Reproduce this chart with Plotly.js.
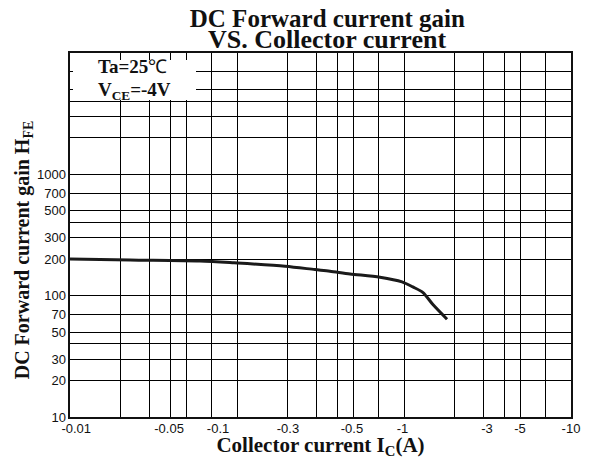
<!DOCTYPE html>
<html>
<head>
<meta charset="utf-8">
<script src="https://cdn.plot.ly/plotly-3.0.1.min.js"></script>
<style>
  html, body { margin: 0; padding: 0; background: #fff; }
  #chart { width: 592px; height: 459px; }
</style>
</head>
<body>
<div id="chart"></div>
<script>
// Collector current magnitude (A) and DC current gain
const currentA = [0.01, 0.0229, 0.06, 0.096, 0.194, 0.293, 0.36, 0.475, 0.718, 0.973, 1.13, 1.30, 1.49, 1.81];
const gainHFE  = [201, 197, 193, 186.5, 175, 164, 159, 151, 142, 130, 118, 106, 84.5, 64];

// grid lines of the log paper
const xGridValues = [0.01, 0.02, 0.03, 0.04, 0.05, 0.07, 0.1, 0.2, 0.3, 0.4, 0.5, 0.7, 1, 2, 3, 4, 5, 7, 10];
const yGridValues = [10, 20, 30, 40, 50, 70, 100, 200, 300, 400, 500, 700, 1000, 2000, 3000, 4000, 5000, 7000, 10000];

// tick labels as printed on the original sheet
const yLabelValues = [10, 20, 30, 50, 70, 100, 200, 300, 500, 700, 1000];
const yTickLabels = ["10", "20", "30", "50", "70", "100", "200", "300", "500", "700", "1000"];
const xLabelPositions = [0.0109, 0.0392, 0.077, 0.202, 0.488, 0.98, 3.14, 4.95, 10];
const xTickLabels = ["-0.01", "-0.05", "-0.1", "-0.3", "-0.5", "-1", "-3", "-5", "-10"];

const serif = '"Liberation Serif", "Times New Roman", serif';
const sans = '"Liberation Sans", Arial, sans-serif';

const traces = [
  {
    x: currentA, y: gainHFE, type: 'scatter', mode: 'lines',
    line: { color: '#1a1a1a', width: 3, shape: 'spline', smoothing: 0.8 },
    xaxis: 'x', yaxis: 'y', hoverinfo: 'skip', showlegend: false
  },
  {
    x: [0.01, 10], y: [10, 10], type: 'scatter', mode: 'lines',
    line: { width: 0 }, opacity: 0, xaxis: 'x2', yaxis: 'y2',
    hoverinfo: 'skip', showlegend: false
  }
];

const layout = {
  width: 592, height: 459,
  margin: { l: 70, r: 21, t: 53, b: 42, pad: 0 },
  paper_bgcolor: '#fff', plot_bgcolor: '#fff',
  showlegend: false,
  title: {
    text: '<b>DC Forward current gain</b>',
    font: { family: serif, size: 25, color: '#111' },
    x: 0.553, xanchor: 'center', xref: 'container',
    y: 1 - 18 / 459, yanchor: 'middle', yref: 'container'
  },
  xaxis: {
    type: 'log', range: [-2, 1],
    tickmode: 'array', tickvals: xGridValues, showticklabels: false,
    ticks: '', showgrid: true, gridcolor: '#000', gridwidth: 1,
    showline: true, linecolor: '#111', linewidth: 2, mirror: true,
    zeroline: false, fixedrange: true,
    title: {
      text: '<b>Collector current I<sub>C</sub>(A)</b>',
      font: { family: serif, size: 21, color: '#111' },
      standoff: 24
    }
  },
  xaxis2: {
    type: 'log', range: [-2, 1], overlaying: 'x', side: 'bottom', anchor: 'y2',
    tickmode: 'array', tickvals: xLabelPositions, ticktext: xTickLabels,
    ticks: '', showgrid: false, showline: false, zeroline: false,
    ticklabelstandoff: 2,
    tickfont: { family: sans, size: 13, color: '#111' }, fixedrange: true
  },
  yaxis: {
    type: 'log', range: [1, 4],
    tickmode: 'array', tickvals: yGridValues, showticklabels: false,
    ticks: '', showgrid: true, gridcolor: '#000', gridwidth: 1,
    showline: true, linecolor: '#111', linewidth: 2, mirror: true,
    zeroline: false, fixedrange: true
  },
  yaxis2: {
    type: 'log', range: [1, 4], overlaying: 'y', side: 'left', anchor: 'x2',
    tickmode: 'array', tickvals: yLabelValues, ticktext: yTickLabels,
    ticks: '', showgrid: false, showline: false, zeroline: false,
    ticklabelstandoff: 3, fixedrange: true,
    tickfont: { family: sans, size: 13, color: '#111' },
    title: {
      text: '<b>DC Forward current gain H<sub>FE</sub>&nbsp;&nbsp;&nbsp;&nbsp;&nbsp;&nbsp;</b>',
      font: { family: serif, size: 20, color: '#111' },
      standoff: 2
    }
  },
  shapes: [
    {
      type: 'rect', xref: 'paper', yref: 'paper',
      x0: 0.006, x1: 0.2515, y0: 0.871, y1: 0.981,
      fillcolor: '#fff', line: { width: 0 }, layer: 'above'
    }
  ],
  annotations: [
    {
      text: '<b>VS. Collector current</b>', xref: 'paper', yref: 'paper',
      x: (327 - 70) / 501, y: (417 - 40) / 364, xanchor: 'center', yanchor: 'middle',
      showarrow: false, font: { family: serif, size: 26, color: '#111' }
    },
    {
      text: '<b>Ta=25</b>℃', xref: 'paper', yref: 'paper',
      x: (96 - 70) / 501, y: (417 - 66) / 364, xanchor: 'left', yanchor: 'middle',
      showarrow: false, font: { family: serif, size: 19, color: '#111' }
    },
    {
      text: '<b>V<sub>CE</sub>=-4V</b>', xref: 'paper', yref: 'paper',
      x: (96 - 70) / 501, y: (417 - 91) / 364, xanchor: 'left', yanchor: 'middle',
      showarrow: false, font: { family: serif, size: 19, color: '#111' }
    }
  ]
};

Plotly.newPlot('chart', traces, layout, { staticPlot: true, displayModeBar: false });
</script>
</body>
</html>
